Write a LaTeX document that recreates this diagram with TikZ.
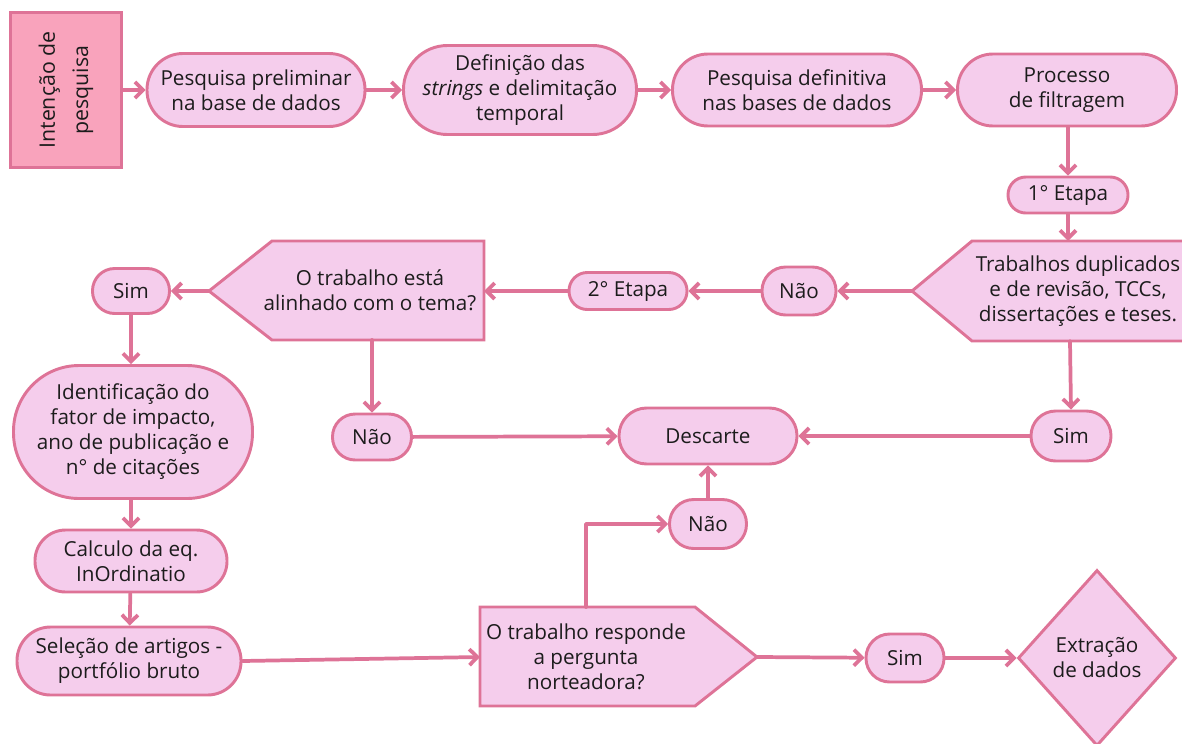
\documentclass[tikz,border=0pt]{standalone}
\usepackage{fontspec}
\setmainfont{Open Sans}
\usetikzlibrary{arrows.meta,shapes.geometric}
\definecolor{edgec}{HTML}{DE7397}
\definecolor{fillp}{HTML}{F5CDEC}
\definecolor{fillr}{HTML}{F9A3BC}
\definecolor{txt}{HTML}{1C1C1C}
\begin{document}
\begin{tikzpicture}[x=0.75pt,y=-0.75pt,
  box/.style={draw=edgec, fill=fillp, line width=2.2pt, text=txt, align=center, inner sep=0pt,
    font=\fontsize{15.5}{18.75}\selectfont},
  pill/.style 2 args={box, minimum width=#1*0.75pt, minimum height=#2*0.75pt, rounded corners=#2*0.37pt},
  lbl/.style={text=txt, align=center, inner sep=0pt, font=\fontsize{15.5}{18.75}\selectfont},
  conn/.style={draw=edgec, line width=2.8pt, line cap=round, line join=round,
    -{Straight Barb[length=6pt,width=12pt]}},
]
\useasboundingbox (0,0) rectangle (1182,743);
\clip (0,0) rectangle (1182,743);

% top row
\node[box, fill=fillr, rotate=90, minimum width=155*0.75pt, minimum height=111*0.75pt,
  font=\fontsize{16}{25}\selectfont] (int) at (66,90) {Intenção de\\pesquisa};
\node[pill={218}{73}] (pre) at (256,90) {Pesquisa preliminar\\na base de dados};
\node[pill={233}{89}] (def) at (520,90) {Definição das\\\textit{strings} e delimitação\\temporal};
\node[pill={249}{72}] (pdef) at (797,90) {Pesquisa definitiva\\nas bases de dados};
\node[pill={219}{72}] (proc) at (1067,90) {Processo\\de filtragem};
\node[pill={120}{36}] (et1) at (1068,195) {1° Etapa};

% pentagon: duplicated works
\draw[box] (972,241) -- (1195,241) -- (1195,341) -- (972,341) -- (912,291) -- cycle;
\coordinate (trabW) at (912,291);
\coordinate (trabN) at (1068,241);
\coordinate (trabS) at (1070,341);
\node[lbl] (trab) at (1078,291) {Trabalhos duplicados\\e de revisão, TCCs,\\dissertações e teses.};

\node[pill={74}{48}] (nao1) at (799,291) {Não};
\node[pill={118}{37}] (et2) at (628,291) {2° Etapa};

% pentagon: aligned with theme
\draw[box] (272,241) -- (484,241) -- (484,340) -- (272,340) -- (209,291) -- cycle;
\coordinate (alinE) at (484,291);
\coordinate (alinW) at (209,291);
\coordinate (alinS) at (372,340);
\node[lbl] (alin) at (370,290) {O trabalho está\\alinhado com o tema?};

\node[pill={77}{45}] (sim1) at (131,291) {Sim};
\node[pill={239}{133}] (ident) at (133,432) {Identificação do\\fator de impacto,\\ano de publicação e\\n° de citações};
\node[pill={192}{62}] (calc) at (131,561) {Calculo da eq.\\InOrdinatio};
\node[pill={224}{68}] (sel) at (129,661) {Seleção de artigos -\\portfólio bruto};

% pentagon: answers question
\draw[box] (480,607) -- (695,607) -- (757,657) -- (695,706) -- (480,706) -- cycle;
\coordinate (respW) at (480,657);
\coordinate (respE) at (757,657);
\coordinate (respN) at (586,607);
\node[lbl] (resp) at (586,657) {O trabalho responde\\a pergunta\\norteadora?};

\node[pill={78}{48}] (sim2) at (905,658) {Sim};
\node[box, diamond, minimum width=158*0.75pt, minimum height=176*0.75pt] (ext) at (1097,658) {Extração\\de dados};

\node[pill={79}{46}] (nao2) at (372,437) {Não};
\node[pill={178}{56}] (desc) at (708,436) {Descarte};
\node[pill={80}{50}] (sim3) at (1071,436) {Sim};
\node[pill={77}{49}] (nao3) at (708,524) {Não};

% connectors
\draw[conn] (int) -- (pre);
\draw[conn] (pre) -- (def);
\draw[conn] (def) -- (pdef);
\draw[conn] (pdef) -- (proc);
\draw[conn] (proc.south -| et1.north) -- (et1.north);
\draw[conn] (et1) -- (trabN);
\draw[conn] (trabW) -- (nao1);
\draw[conn] (nao1) -- (et2);
\draw[conn] (et2) -- (alinE);
\draw[conn] (alinW) -- (sim1);
\draw[conn] (sim1.south) -- (sim1.south |- ident.north);
\draw[conn] (ident.south -| calc.north) -- (calc.north);
\draw[conn] (calc) -- (sel);
\draw[conn] (sel.east) -- (respW);
\draw[conn] (respE) -- (sim2);
\draw[conn] (sim2) -- (ext);
\draw[conn] (alinS) -- (nao2.north);
\draw[conn] (nao2) -- (desc);
\draw[conn] (trabS) -- (sim3.north);
\draw[conn] (sim3) -- (desc);
\draw[conn] (respN) |- (nao3.west);
\draw[conn] (nao3) -- (desc);
\end{tikzpicture}
\end{document}
